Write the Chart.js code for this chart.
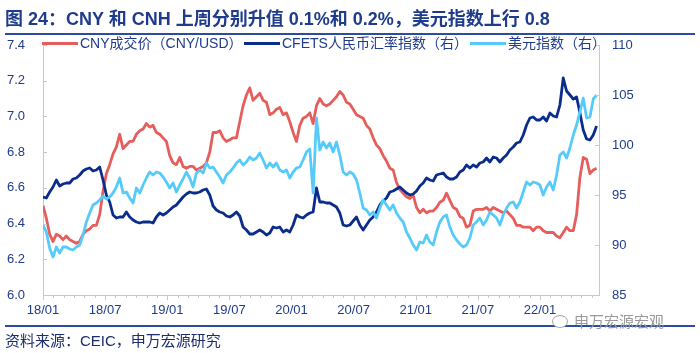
<!DOCTYPE html>
<html>
<head>
<meta charset="utf-8">
<script src="https://cdn.jsdelivr.net/npm/chart.js@4.4.1/dist/chart.umd.min.js"></script>
<style>
  body { margin: 0; background: #fff; font-family: "Liberation Sans", Arial, "Noto Sans CJK SC", sans-serif; }
  #wrap { position: relative; width: 700px; height: 353px; overflow: hidden; }
  #chart { position: absolute; left: 0; top: 0; }
  .title { position: absolute; left: 5px; top: 8px; font-size: 18px; line-height: 22px; font-weight: bold; color: #1f3c8c; white-space: nowrap; }
  .rule { position: absolute; left: 5px; width: 690px; height: 2px; background: #2c4c9f; }
  .legend { position: absolute; top: 35px; font-size: 14px; line-height: 16px; color: #1f3c8c; white-space: nowrap; }
  .legend i { display: inline-block; width: 36px; height: 3px; vertical-align: middle; margin-right: 2px; position: relative; top: -1px; }
  .source { position: absolute; left: 5px; top: 332px; font-size: 15px; line-height: 18px; color: #1c2c6e; white-space: nowrap; }
  .mark { position: absolute; left: 574px; top: 313px; font-size: 15px; line-height: 18px; color: #9a9a9a; white-space: nowrap; }
  .icon { position: absolute; left: 552px; top: 315px; width: 14px; height: 11px; border: 1.5px solid #a8a8a8; border-radius: 50%; background: #fff; }
</style>
</head>
<body>
<div id="wrap">
  <canvas id="chart" width="700" height="353"></canvas>
  <div class="title">图 24：CNY 和 CNH 上周分别升值 0.1%和 0.2%，美元指数上行 0.8</div>
  <div class="rule" style="top:33px"></div>
  <div class="legend" style="left:42px"><i style="background:#e55e5c"></i>CNY成交价（CNY/USD）</div>
  <div class="legend" style="left:244px"><i style="background:#0a2d8c"></i>CFETS人民币汇率指数（右）</div>
  <div class="legend" style="left:470px"><i style="background:#56cbf9"></i>美元指数（右）</div>
  <div class="rule" style="top:325px"></div>
  <div class="icon"></div>
  <div class="mark">申万宏源宏观</div>
  <div class="source">资料来源：CEIC，申万宏源研究</div>
</div>
<script>
// x 轴：自 2018 年 1 月起的月数，每个样本间隔约 10 天
const SAMPLE_STEP = 0.3221;
const X_MAX = 53.7;
const tickLabels = ['18/01', '18/07', '19/01', '19/07', '20/01', '20/07', '21/01', '21/07', '22/01'];

// CNY 成交价（左轴）
const cny = [
  6.50, 6.43, 6.34, 6.30, 6.34, 6.33, 6.31, 6.33, 6.31, 6.30,
  6.29, 6.30, 6.34, 6.36, 6.37, 6.39, 6.39, 6.45, 6.58, 6.68,
  6.73, 6.79, 6.83, 6.90, 6.82, 6.84, 6.86, 6.86, 6.90, 6.92,
  6.93, 6.96, 6.94, 6.95, 6.91, 6.90, 6.88, 6.86, 6.78, 6.74,
  6.73, 6.77, 6.72, 6.71, 6.72, 6.72, 6.70, 6.71, 6.72, 6.74,
  6.80, 6.91, 6.91, 6.92, 6.88, 6.86, 6.87, 6.88, 6.88, 6.97,
  7.06, 7.12, 7.16, 7.09, 7.11, 7.13, 7.09, 7.08, 7.01, 7.02,
  7.04, 7.05, 7.01, 7.02, 6.97, 6.91, 6.86, 6.95, 6.99, 7.00,
  7.02, 6.96, 7.06, 7.10, 7.07, 7.06, 7.07, 7.09, 7.11, 7.14,
  7.12, 7.08, 7.07, 7.04, 7.01, 7.00, 6.99, 6.95, 6.93, 6.88,
  6.84, 6.82, 6.78, 6.75, 6.71, 6.70, 6.63, 6.59, 6.57, 6.55,
  6.54, 6.56, 6.49, 6.46, 6.48, 6.46, 6.47, 6.47, 6.49, 6.52,
  6.53, 6.57, 6.53, 6.49, 6.48, 6.44, 6.43, 6.38, 6.39, 6.47,
  6.48, 6.48, 6.48, 6.49, 6.47, 6.49, 6.48, 6.47, 6.46, 6.47,
  6.45, 6.43, 6.39, 6.39, 6.38, 6.38, 6.38, 6.36, 6.38, 6.38,
  6.36, 6.35, 6.35, 6.35, 6.33, 6.32, 6.35, 6.38, 6.36, 6.36,
  6.45, 6.66, 6.77, 6.76, 6.68, 6.70, 6.71
];

// CFETS 人民币汇率指数（右轴）
const cfets = [
  94.8, 94.7, 95.3, 95.8, 96.5, 95.9, 96.1, 96.2, 96.2, 96.6,
  96.7, 97.0, 97.4, 97.6, 97.7, 97.4, 97.5, 97.8, 96.5, 95.0,
  94.3, 93.0, 92.7, 92.8, 92.8, 93.3, 92.8, 92.5, 92.3, 92.2,
  92.3, 92.3, 92.3, 92.2, 92.8, 93.2, 93.0, 93.2, 93.5, 93.8,
  94.0, 94.4, 94.8, 95.1, 95.3, 95.2, 95.2, 95.3, 95.5, 95.6,
  95.0, 93.9, 93.5, 93.3, 93.2, 92.9, 92.8, 93.0, 93.3, 92.9,
  91.8, 91.5, 91.1, 91.1, 91.3, 91.5, 91.3, 91.0, 91.2, 91.8,
  91.7, 91.8, 91.3, 91.5, 91.3, 92.0, 93.0, 92.8, 92.7, 93.0,
  93.2, 93.3, 95.7, 94.3, 94.3, 94.2, 94.2, 94.0, 93.8, 93.2,
  92.0, 91.9, 92.0, 92.4, 92.8, 92.0, 91.5, 92.0, 92.5, 92.8,
  93.3, 94.0, 94.4, 94.7, 95.3, 95.4, 95.6, 95.8, 95.5, 95.2,
  95.0, 95.1, 95.4, 95.9, 96.2, 96.7, 96.5, 96.4, 97.0, 97.1,
  97.2, 96.8, 96.6, 96.6, 96.8, 97.3, 97.5, 98.0, 97.7, 98.0,
  97.8, 98.2, 98.3, 98.7, 98.3, 98.8, 98.7, 98.3, 98.7, 99.0,
  99.5, 99.8, 100.2, 100.3, 101.0, 102.0, 102.7, 102.8, 102.5, 102.5,
  102.8, 102.4, 103.2, 102.9, 102.8, 104.0, 106.7, 105.4, 105.0, 104.6,
  104.8, 103.2, 101.5, 100.6, 100.5, 101.0, 101.9
];

// 美元指数（右轴）
const usd = [
  92.0, 91.3, 89.7, 88.8, 89.8, 89.2, 89.8, 89.8, 89.6, 89.5,
  89.8, 90.0, 91.0, 92.3, 93.2, 94.0, 94.2, 94.5, 94.9, 94.6,
  94.8, 95.2, 95.8, 96.7, 95.2, 95.3, 94.7, 94.2, 95.7, 95.2,
  96.0, 96.7, 97.3, 97.0, 97.3, 97.2, 96.8, 96.3, 95.7, 96.2,
  95.3, 96.0, 96.6, 97.3, 96.7, 95.8, 97.2, 97.5, 97.2, 98.2,
  97.7, 97.8, 97.3, 96.8, 96.2, 97.0, 97.3, 97.7, 98.2, 98.5,
  98.0, 98.3, 98.8, 98.5, 98.7, 99.2, 98.5, 97.7, 98.2, 97.8,
  98.2, 97.5, 97.3, 97.5, 96.7, 97.3, 97.7, 97.8, 98.5, 99.3,
  99.6, 95.2, 102.7, 99.5, 100.3, 99.7, 100.2, 99.3, 100.3, 99.0,
  97.3, 97.0, 97.3, 97.1, 96.5, 95.2, 93.7, 93.5, 93.0, 93.3,
  92.7, 93.7, 94.5, 94.0, 93.5, 94.0, 93.2, 92.7, 92.3, 91.3,
  90.7, 90.0, 89.5, 90.3, 90.2, 91.0, 90.3, 90.0, 91.3, 92.3,
  92.8, 93.0, 91.8, 91.0, 90.5, 90.1, 89.8, 90.0, 90.7, 92.0,
  92.3, 92.7, 92.0, 92.5, 93.3, 93.0, 92.7, 92.0, 93.0, 93.7,
  94.2, 94.3, 93.7, 94.3, 95.3, 96.3, 96.0, 96.3, 96.2, 96.0,
  95.0, 95.8, 96.3, 95.5, 97.0, 99.0, 99.3, 98.7, 99.7, 101.0,
  102.0, 103.3, 104.7, 102.7, 102.8, 104.6, 105.0
];

const toPoints = arr => arr.map((v, k) => ({ x: k * SAMPLE_STEP, y: v }));

const axisColor = '#c8c8c8';
const labelColor = '#1f3c8c';
const tickFont = { family: '"Liberation Sans", Arial, sans-serif', size: 13 };

// 轴内侧刻度与 x 轴月度小刻度
const tickMarks = {
    id: 'tickMarks',
    afterDraw(chart) {
        const { ctx, chartArea: a, scales } = chart;
        ctx.save();
        ctx.strokeStyle = axisColor;
        ctx.lineWidth = 1;
        ctx.beginPath();
        scales.y.ticks.forEach(t => {
            const y = Math.round(scales.y.getPixelForValue(t.value)) + 0.5;
            ctx.moveTo(a.left, y);
            ctx.lineTo(a.left + 4, y);
        });
        scales.y1.ticks.forEach(t => {
            const y = Math.round(scales.y1.getPixelForValue(t.value)) + 0.5;
            ctx.moveTo(a.right, y);
            ctx.lineTo(a.right - 4, y);
        });
        for (let m = 0; m <= X_MAX; m++) {
            const x = Math.round(scales.x.getPixelForValue(m)) + 0.5;
            ctx.moveTo(x, a.bottom);
            ctx.lineTo(x, a.bottom + (m % 6 === 0 ? 5 : 3));
        }
        ctx.stroke();
        ctx.restore();
    }
};

new Chart(document.getElementById('chart').getContext('2d'), {
    type: 'line',
    data: {
        datasets: [
            { label: 'CNY成交价（CNY/USD）', data: toPoints(cny), yAxisID: 'y', borderColor: '#e55e5c', order: 3 },
            { label: 'CFETS人民币汇率指数（右）', data: toPoints(cfets), yAxisID: 'y1', borderColor: '#0a2d8c', order: 2 },
            { label: '美元指数（右）', data: toPoints(usd), yAxisID: 'y1', borderColor: '#56cbf9', order: 1 }
        ]
    },
    options: {
        responsive: false,
        animation: false,
        layout: { padding: { top: 45, left: 0, right: 0, bottom: 0 } },
        elements: {
            line: { borderWidth: 2.8, tension: 0, borderJoinStyle: 'round' },
            point: { radius: 0 }
        },
        plugins: { legend: { display: false }, tooltip: { enabled: false } },
        scales: {
            x: {
                type: 'linear',
                min: 0,
                max: X_MAX,
                afterBuildTicks: s => { s.ticks = tickLabels.map((_, i) => ({ value: i * 6 })); },
                afterFit: s => { s.height = 58; },
                grid: { display: true, drawOnChartArea: false, drawTicks: false },
                border: { color: axisColor },
                ticks: {
                    autoSkip: false,
                    maxRotation: 0,
                    padding: 8,
                    color: labelColor,
                    font: tickFont,
                    callback: v => tickLabels[Math.round(v / 6)]
                }
            },
            y: {
                position: 'left',
                min: 6.0,
                max: 7.4,
                afterFit: s => { s.width = 43; },
                grid: { display: true, drawOnChartArea: false, drawTicks: false },
                border: { color: axisColor },
                ticks: { stepSize: 0.2, padding: 18, color: labelColor, font: tickFont, callback: v => v.toFixed(1) }
            },
            y1: {
                position: 'right',
                min: 85,
                max: 110,
                afterFit: s => { s.width = 101; },
                grid: { display: true, drawOnChartArea: false, drawTicks: false },
                border: { color: axisColor },
                ticks: { stepSize: 5, padding: 13, color: labelColor, font: tickFont }
            }
        }
    },
    plugins: [tickMarks]
});
</script>
</body>
</html>
